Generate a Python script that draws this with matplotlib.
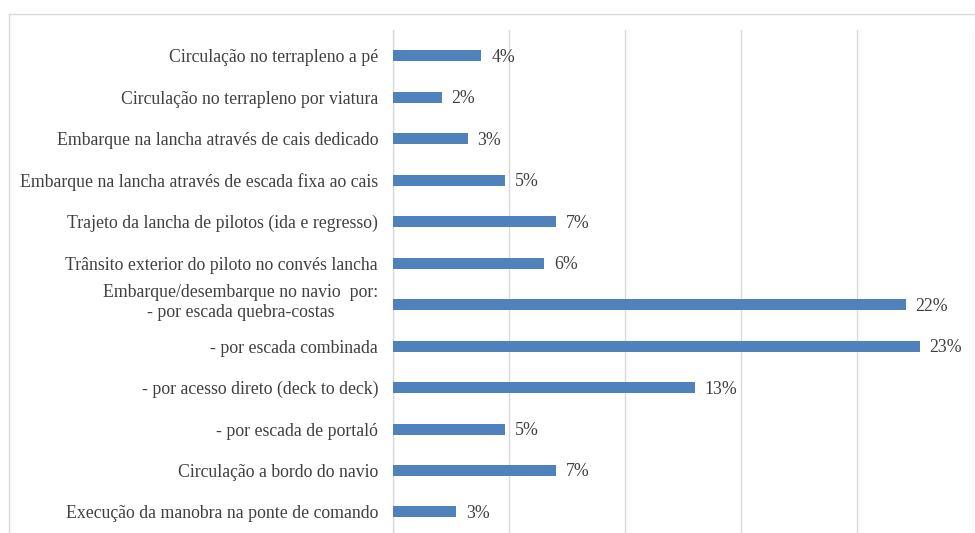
import matplotlib
matplotlib.use("Agg")
import matplotlib.pyplot as plt
import matplotlib.transforms as mtransforms
from matplotlib.lines import Line2D
from matplotlib.ticker import MultipleLocator

categories = [
    "Circulação no terrapleno a pé",
    "Circulação no terrapleno por viatura",
    "Embarque na lancha através de cais dedicado",
    "Embarque na lancha através de escada fixa ao cais",
    "Trajeto da lancha de pilotos (ida e regresso)",
    "Trânsito exterior do piloto no convés lancha",
    "Embarque/desembarque no navio  por:\n- por escada quebra-costas",
    "- por escada combinada",
    "- por acesso direto (deck to deck)",
    "- por escada de portaló",
    "Circulação a bordo do navio",
    "Execução da manobra na ponte de comando",
]
shares = [0.038, 0.021, 0.032, 0.048, 0.070, 0.065,
          0.221, 0.227, 0.130, 0.048, 0.070, 0.027]

W, H = 975, 533
fig = plt.figure(figsize=(W / 100, H / 100), dpi=100)
plt.rcParams["font.family"] = ["Liberation Serif", "DejaVu Serif"]

# plot area in pixel coordinates
x0, x1 = 393.3, 973.3
y_top = 30
ax = fig.add_axes([x0 / W, 0, (x1 - x0) / W, (H - y_top) / H])

bar_color = "#4f81bd"
text_color = "#404040"
grid_color = "#d9d9d9"
fs = 12.8

pos = list(range(len(categories)))
ax.barh(pos, shares, height=0.265, color=bar_color, zorder=3)

for p, v in zip(pos, shares):
    ax.annotate(f"{v:.0%}", xy=(v, p), xytext=(7, -1), textcoords="offset points",
                ha="left", va="center", fontsize=fs, color=text_color, zorder=4)

ax.set_xlim(0, 0.25)
# vertical extent: first band centred 26 px below top, cropped at bottom
ax.set_ylim(11.507, -0.627)
ax.xaxis.set_major_locator(MultipleLocator(0.05))
ax.grid(axis="x", color=grid_color, linewidth=1.0, zorder=0)
ax.set_axisbelow(True)
ax.tick_params(axis="x", bottom=False, labelbottom=False)

ax.set_yticks(pos)
ax.set_yticklabels(categories, fontsize=fs, color=text_color, multialignment="center",
                   linespacing=1.2)
ax.tick_params(axis="y", length=0, pad=11)

# the two-line label sits a little above its bar
wrapped = ax.get_yticklabels()[6]
wrapped.set_transform(wrapped.get_transform() +
                      mtransforms.ScaledTranslation(0, 4 / 72, fig.dpi_scale_trans))

for side in ("top", "right", "bottom"):
    ax.spines[side].set_visible(False)
ax.spines["left"].set_color(grid_color)
ax.spines["left"].set_linewidth(1.0)

# chart border (top and left edges visible)
fig.add_artist(Line2D([9 / W, 9 / W], [0, 1 - 14 / H], transform=fig.transFigure,
                      color=grid_color, linewidth=1.0))
fig.add_artist(Line2D([9 / W, 1], [1 - 14 / H, 1 - 14 / H], transform=fig.transFigure,
                      color=grid_color, linewidth=1.0))

fig.savefig("out.png", dpi=100, facecolor="white")
